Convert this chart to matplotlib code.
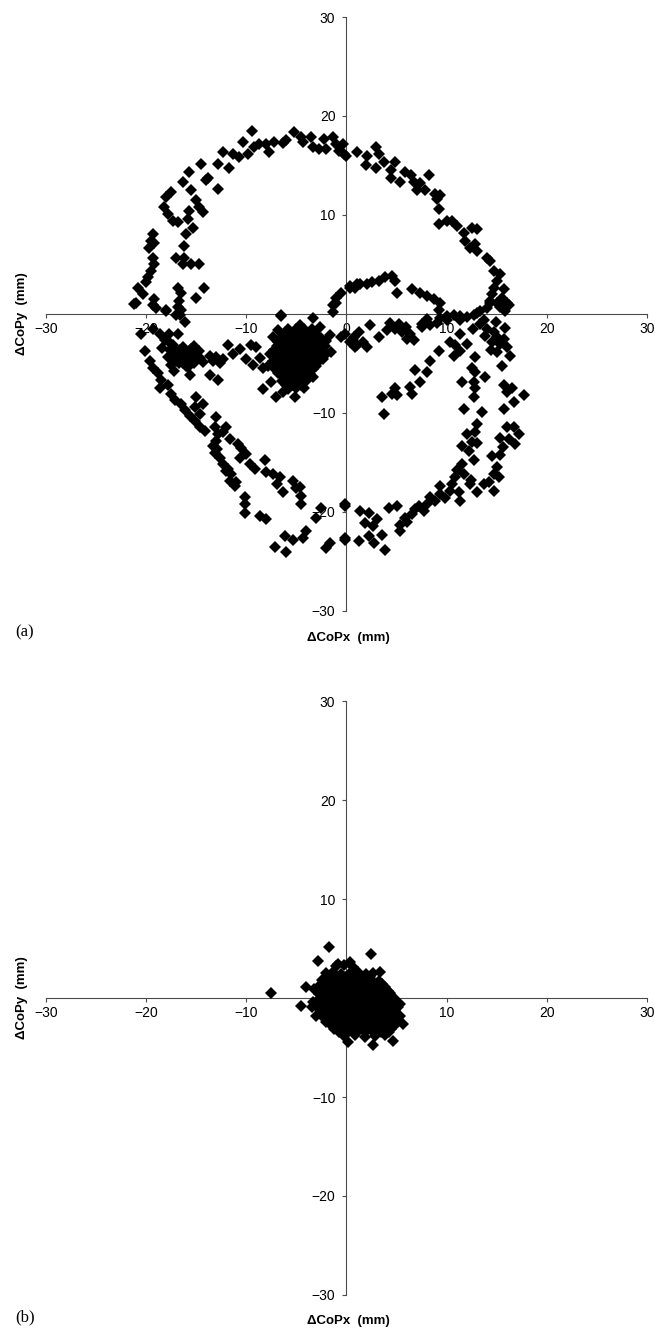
import numpy as np
import matplotlib.pyplot as plt

# ---- panel (a): CoP excursion (mm) ----
a_top = [(-12.8, 15.2), (-12.3, 16.4), (-11.7, 14.7), (-11.3, 16.2), (-10.7, 15.9), (-10.3, 17.4),
         (-9.8, 16.2), (-9.4, 18.5), (-9.2, 16.9), (-8.7, 17.2), (-8.0, 17.2), (-7.7, 16.4),
         (-7.2, 17.4), (-6.3, 17.3), (-6.0, 17.6), (-5.2, 18.4), (-4.5, 17.9), (-4.3, 17.4),
         (-3.5, 17.9), (-3.3, 16.9), (-2.7, 16.7), (-2.2, 17.7), (-2.0, 16.7), (-1.3, 17.9),
         (-1.0, 17.2), (-0.7, 16.5), (0.0, 16.0), (-0.2, 16.2), (-0.3, 17.2), (1.0, 16.4),
         (2.0, 16.0), (1.9, 15.0), (2.9, 16.9), (3.2, 16.2), (2.9, 14.7), (3.7, 15.4), (4.4, 14.5),
         (4.4, 13.7), (4.85, 15.4), (5.35, 13.3), (5.85, 14.3), (6.4, 14.0), (6.7, 13.3), (7.0, 12.5),
         (8.2, 14.0), (7.35, 13.2), (7.85, 12.5), (8.85, 12.1), (9.35, 12.0), (9.0, 11.6),
         (9.2, 10.6), (9.2, 9.1), (10.0, 9.4), (10.5, 9.4), (11.0, 8.9), (11.7, 8.2), (12.5, 8.7),
         (13.0, 8.6), (11.85, 7.4), (12.35, 6.7), (12.85, 7.1), (13.0, 6.4), (14.0, 5.7),
         (14.35, 5.4), (14.7, 4.3), (15.35, 4.0), (15.0, 3.3), (14.7, 2.6), (15.7, 2.5), (14.5, 2.0),
         (14.35, 1.3), (15.0, 1.1), (15.5, 1.6), (16.2, 0.9), (15.85, 0.3), (13.35, 0.3), (14.0, 0.6)]

a_left_outer = [(-13.8, 13.7), (-14.5, 15.2), (-15.7, 14.3), (-16.3, 13.3), (-15.5, 12.5), (-14.0, 13.5),
                (-12.8, 12.6), (-17.5, 12.3), (-18.0, 11.8), (-18.2, 10.8), (-17.8, 10.1), (-17.3, 9.4),
                (-16.8, 9.3), (-19.3, 8.1), (-19.5, 7.4), (-19.2, 7.2), (-19.7, 6.7), (-19.3, 5.7),
                (-19.2, 5.0), (-19.5, 4.3), (-19.8, 3.7), (-20.0, 3.2), (-20.8, 2.6), (-20.3, 2.0),
                (-21.2, 1.0), (-19.2, 1.5), (-19.0, 0.6), (-18.0, 0.3)]

a_left_inner = [(-15.0, 11.5), (-15.7, 10.4), (-14.7, 10.8), (-15.8, 9.6), (-15.3, 8.7), (-16.0, 8.1),
                (-14.3, 10.3), (-16.2, 6.9), (-17.0, 5.7), (-16.2, 5.7), (-16.3, 5.0), (-15.5, 5.0),
                (-14.7, 5.0), (-16.8, 2.6), (-16.5, 2.1), (-14.2, 2.6), (-15.0, 1.6), (-16.7, 1.3),
                (-16.5, 0.4), (-17.0, -0.1), (-6.5, -0.2), (-3.3, -0.4)]

a_inner_loop = [(-1.3, 0.9), (-1.0, 1.6), (-0.5, 2.1), (0.3, 2.6), (1.0, 3.0), (0.35, 2.8), (0.85, 2.6),
                (1.35, 3.0), (2.0, 3.0), (2.5, 3.2), (3.2, 3.3), (3.85, 3.7), (4.5, 3.8), (4.85, 3.3),
                (5.0, 2.1), (6.5, 2.5), (7.35, 2.1), (8.0, 1.8), (8.7, 1.5), (9.35, 1.1), (9.2, 0.4),
                (10.0, -0.2), (11.35, -0.2), (12.7, -0.1)]

a_left_row = [(-21.0, 1.1), (-19.3, 0.9), (-18.0, 0.4), (-16.8, 0.7), (-16.6, -0.1), (-16.1, -0.8),
              (-20.5, -2.0), (-19.3, -1.5), (-18.6, -2.0), (-18.1, -2.6), (-17.7, -2.0), (-16.8, -2.0),
              (-20.1, -3.7), (-19.6, -4.7), (-17.3, -3.1), (-16.6, -4.0), (-16.0, -3.7), (-17.0, -4.7),
              (-16.3, -5.0), (-15.6, -4.5), (-15.0, -4.0), (-17.5, -5.2), (-15.6, -6.2), (-14.7, -3.7),
              (-16.0, -5.3), (-16.5, -4.3), (-13.65, -4.2), (-13.0, -4.3), (-13.3, -4.7), (-12.3, -4.5),
              (-12.65, -5.0), (-11.8, -3.1), (-11.3, -4.0), (-10.65, -3.5), (-10.0, -4.5), (-9.5, -3.1),
              (-9.0, -3.3), (-8.65, -4.4), (-9.3, -5.2), (-8.3, -5.5), (-13.65, -6.2), (-12.8, -6.7),
              (-8.3, -7.6), (-7.0, -8.4), (-17.0, -3.8), (-16.3, -3.3), (-15.5, -3.5), (-17.8, -4.3),
              (-16.0, -4.6), (-15.2, -5.0), (-17.2, -5.8), (-14.6, -4.4), (-18.4, -3.4),
              (-17.6, -3.6), (-16.9, -4.3), (-16.2, -4.2), (-15.5, -4.1), (-16.6, -3.6), (-15.8, -5.4),
              (-17.4, -4.5), (-16.7, -5.0), (-15.2, -3.2), (-14.3, -4.9), (-17.8, -2.7)]

a_cluster = [(-6.5, -0.1), (-6.85, -1.6), (-4.65, -1.1), (-2.65, -1.3), (-1.65, -2.1), (-1.5, -3.8),
             (-2.3, -4.5), (-3.3, -6.4), (-4.2, -7.5), (-5.15, -8.4), (-6.3, -7.9), (-7.5, -6.9),
             (-7.8, -5.3), (-7.65, -4.0), (-7.3, -2.3), (-1.0, 1.1), (-1.3, 0.2), (-0.5, -2.3),
             (0.7, -2.3), (1.0, -3.1), (0.35, -2.8),
             (-6.2, -2.0), (-5.4, -2.1), (-4.6, -1.9), (-3.8, -2.2), (-3.0, -2.0),
             (-6.8, -2.8), (-6.0, -2.9), (-5.2, -2.7), (-4.4, -2.9), (-3.6, -2.8), (-2.8, -2.9), (-2.0, -2.7),
             (-7.2, -3.6), (-6.4, -3.5), (-5.6, -3.7), (-4.8, -3.6), (-4.0, -3.5), (-3.2, -3.7), (-2.4, -3.6),
             (-7.0, -4.4), (-6.2, -4.5), (-5.4, -4.3), (-4.6, -4.4), (-3.8, -4.5), (-3.0, -4.3),
             (-7.0, -5.2), (-6.2, -5.1), (-5.4, -5.3), (-4.6, -5.2), (-3.8, -5.1), (-3.0, -5.3),
             (-6.8, -6.0), (-6.0, -6.1), (-5.2, -5.9), (-4.4, -6.0), (-3.6, -6.1),
             (-6.4, -6.8), (-5.6, -6.9), (-4.8, -6.7), (-4.0, -6.8), (-5.8, -7.6), (-5.0, -7.5),
             (-5.8, -1.5), (-5.0, -1.5), (-4.2, -1.5), (-3.4, -1.5),
             (-6.5, -2.4), (-5.7, -2.4), (-4.9, -2.4), (-4.1, -2.4), (-3.3, -2.4), (-2.5, -2.4),
             (-6.9, -3.2), (-6.1, -3.2), (-5.3, -3.2), (-4.5, -3.2), (-3.7, -3.2), (-2.9, -3.2), (-2.1, -3.2),
             (-6.8, -4.0), (-6.0, -4.0), (-5.2, -4.0), (-4.4, -4.0), (-3.6, -4.0), (-2.8, -4.0), (-2.0, -4.0),
             (-7.3, -4.8), (-6.6, -4.8), (-5.8, -4.8), (-5.0, -4.8), (-4.2, -4.8), (-3.4, -4.8), (-2.7, -4.8),
             (-7.1, -5.6), (-6.4, -5.6), (-5.6, -5.6), (-4.8, -5.6), (-4.0, -5.6), (-3.3, -5.6),
             (-6.2, -6.4), (-5.4, -6.4), (-4.6, -6.4), (-3.8, -6.4), (-6.0, -7.2), (-5.3, -7.2), (-4.5, -7.2)]

a_diag = [(-19.3, -5.5), (-18.8, -6.0), (-18.5, -6.7), (-18.65, -7.5), (-17.8, -7.2), (-17.5, -8.1),
          (-17.15, -8.7), (-16.5, -9.1), (-16.15, -9.7), (-15.65, -10.3), (-15.15, -10.8), (-14.65, -11.4),
          (-14.15, -11.8), (-15.0, -8.4), (-14.3, -9.1), (-15.15, -9.4), (-14.65, -10.1), (-13.0, -10.4),
          (-13.15, -11.4), (-12.8, -12.1), (-13.0, -12.8), (-13.15, -14.0), (-12.65, -14.5), (-12.3, -15.2),
          (-11.8, -15.7), (-11.5, -16.2), (-11.65, -16.9), (-11.15, -17.4), (-10.15, -18.5), (-10.15, -19.2),
          (-10.15, -20.1), (-8.65, -20.4), (-8.0, -20.7), (-13.3, -13.3), (-12.9, -13.6), (-12.0, -15.9),
          (-11.0, -17.0),
          (-12.0, -11.4), (-11.65, -12.6), (-10.8, -13.1), (-10.5, -13.5), (-10.0, -14.1), (-10.65, -14.5),
          (-9.15, -15.7), (-8.15, -14.8), (-8.0, -16.0), (-7.3, -16.2), (-6.65, -16.5), (-6.3, -18.0),
          (-5.3, -16.9), (-4.65, -17.5), (-4.5, -18.4), (-4.5, -19.2), (-12.3, -11.9), (-9.6, -15.2),
          (-6.9, -17.2), (-5.0, -17.6),
          (-2.5, -19.6), (-3.0, -20.6), (-4.0, -21.9), (-4.3, -22.6), (-5.3, -22.8), (-6.15, -22.4),
          (-7.15, -23.5), (-6.0, -24.0), (-2.0, -23.6), (-1.65, -23.1), (-0.15, -19.2), (-0.15, -22.8)]

a_right_row = [(-0.15, -2.0), (0.65, -2.5), (0.85, -3.3), (2.0, -3.3), (2.35, -1.1), (3.2, -2.3),
               (4.35, -0.95), (4.85, -1.5), (5.5, -1.8), (6.0, -2.5), (6.35, -2.0), (7.5, -1.3),
               (8.35, -1.1), (9.0, -0.95), (9.35, -0.45), (10.0, -0.6), (10.7, -0.1), (11.35, -0.6),
               (12.0, -0.3), (13.0, 0.1), (13.7, -0.6), (14.0, -1.5), (14.7, -1.8), (15.0, -2.3),
               (15.7, -2.5), (16.0, -3.3), (15.0, -3.8), (16.35, -4.2), (14.35, 1.1), (15.35, 0.7),
               (16.0, 1.1), (10.35, -2.8), (10.85, -3.1), (11.35, -2.0), (12.0, -3.0), (10.7, -4.2),
               (11.35, -3.7), (12.85, -4.3), (15.5, -5.3), (9.2, -3.7), (8.35, -4.7), (8.0, -5.9),
               (6.85, -5.7), (7.35, -6.9), (6.35, -7.4), (6.5, -8.1), (4.85, -7.5), (5.0, -8.2),
               (4.5, -8.1), (3.5, -8.4), (3.7, -10.1), (12.5, -5.5), (12.85, -5.9), (13.85, -6.4),
               (11.5, -6.9), (12.7, -6.9), (12.85, -7.5), (12.7, -8.4), (11.7, -9.6), (13.5, -9.9),
               (15.7, -7.2), (16.5, -7.5), (16.0, -7.9), (17.7, -8.2), (16.7, -8.9), (15.7, -9.6),
               (14.5, -2.8), (15.3, -3.0), (13.8, -2.2), (14.4, -3.6), (15.8, -1.4), (13.3, -1.0),
               (12.6, -1.5), (14.9, -0.8), (5.2, -1.0), (5.9, -1.3), (6.7, -2.6), (4.0, -1.6),
               (1.2, -1.8), (1.6, -2.8), (7.5, -1.0), (8.0, -0.5)]

a_right_arc = [(16.7, -11.4), (16.0, -11.4), (17.2, -12.1), (15.35, -12.5), (16.85, -13.1), (13.0, -11.1),
               (12.85, -11.9), (12.0, -12.1), (12.5, -12.9), (11.5, -13.3), (12.2, -13.8), (12.7, -14.8),
               (14.5, -14.3), (15.35, -14.2), (15.0, -15.5), (14.7, -16.2), (15.2, -16.5), (14.2, -17.0),
               (13.7, -17.2), (14.7, -17.9), (12.35, -17.2), (13.0, -18.0), (11.5, -15.2), (11.0, -15.8),
               (10.85, -16.5), (11.7, -16.2), (10.5, -17.2), (11.2, -18.0), (11.35, -18.9), (10.35, -17.9),
               (9.35, -17.4), (9.35, -18.2), (8.85, -18.9), (8.35, -18.5), (8.0, -19.2), (7.7, -19.9),
               (6.85, -19.7), (6.5, -20.2), (5.85, -20.6), (5.35, -21.3), (5.35, -21.9), (5.0, -19.4),
               (4.2, -19.6), (3.0, -20.7), (2.2, -20.1), (1.35, -19.9), (1.85, -21.1), (-0.15, -19.4),
               (1.2, -22.9), (2.2, -22.4), (2.7, -23.1), (3.5, -22.3), (3.85, -23.8), (-0.15, -22.6),
               (16.2, -12.6), (15.6, -13.4), (13.0, -13.0), (12.4, -16.8), (9.8, -18.6), (7.2, -19.4),
               (6.0, -21.0), (2.6, -21.4)]

# ---- panel (b): CoP during the second condition ----
b_blob = [(-1.0, 3.2), (-0.2, 3.3), (0.6, 3.1),
          (-2.0, 2.5), (-1.3, 2.6), (-0.5, 2.4), (0.3, 2.5), (1.1, 2.6), (1.9, 2.4), (2.6, 2.5),
          (-2.4, 1.8), (-1.6, 1.9), (-0.8, 1.7), (0.0, 1.8), (0.8, 1.9), (1.6, 1.7), (2.4, 1.8), (3.2, 1.7),
          (-2.6, 1.1), (-1.8, 1.0), (-1.0, 1.2), (-0.2, 1.1), (0.6, 1.0), (1.4, 1.2), (2.2, 1.1),
          (3.0, 1.0), (3.8, 1.1),
          (-2.7, 0.4), (-1.9, 0.3), (-1.1, 0.5), (-0.3, 0.4), (0.5, 0.3), (1.3, 0.4), (2.1, 0.5),
          (2.9, 0.4), (3.7, 0.3), (4.3, 0.5),
          (-2.9, -0.3), (-2.1, -0.2), (-1.3, -0.4), (-0.5, -0.3), (0.3, -0.2), (1.1, -0.3), (1.9, -0.4),
          (2.7, -0.3), (3.5, -0.2), (4.3, -0.4), (4.9, -0.3),
          (-2.8, -1.0), (-2.0, -1.1), (-1.2, -0.9), (-0.4, -1.0), (0.4, -1.1), (1.2, -1.0), (2.0, -0.9),
          (2.8, -1.0), (3.6, -1.1), (4.4, -1.0), (5.1, -0.9),
          (-2.5, -1.7), (-1.7, -1.6), (-0.9, -1.8), (-0.1, -1.7), (0.7, -1.6), (1.5, -1.7), (2.3, -1.8),
          (3.1, -1.7), (3.9, -1.6), (4.7, -1.7), (5.3, -1.8),
          (-2.0, -2.4), (-1.2, -2.5), (-0.4, -2.3), (0.4, -2.4), (1.2, -2.5), (2.0, -2.4), (2.8, -2.3),
          (3.6, -2.4), (4.4, -2.5), (5.0, -2.4),
          (-1.2, -3.1), (-0.4, -3.2), (0.4, -3.0), (1.2, -3.1), (2.0, -3.2), (2.8, -3.1), (3.6, -3.0),
          (4.4, -3.1),
          (-0.2, -3.8), (0.8, -3.7), (1.8, -3.9), (2.8, -3.8), (3.8, -3.7)]
b_fill = [(-1.7, 2.15), (-0.9, 2.15), (-0.1, 2.15), (0.7, 2.15), (1.5, 2.15), (2.3, 2.15),
          (-2.0, 1.45), (-1.2, 1.45), (-0.4, 1.45), (0.4, 1.45), (1.2, 1.45), (2.0, 1.45), (2.8, 1.45),
          (3.5, 1.45),
          (-2.2, 0.75), (-1.4, 0.75), (-0.6, 0.75), (0.2, 0.75), (1.0, 0.75), (1.8, 0.75), (2.6, 0.75),
          (3.4, 0.75), (4.1, 0.75),
          (-2.4, 0.05), (-1.6, 0.05), (-0.8, 0.05), (0.0, 0.05), (0.8, 0.05), (1.6, 0.05), (2.4, 0.05),
          (3.2, 0.05), (4.0, 0.05), (4.7, 0.05),
          (-2.5, -0.65), (-1.7, -0.65), (-0.9, -0.65), (-0.1, -0.65), (0.7, -0.65), (1.5, -0.65),
          (2.3, -0.65), (3.1, -0.65), (3.9, -0.65), (4.7, -0.65), (5.3, -0.65),
          (-2.4, -1.35), (-1.6, -1.35), (-0.8, -1.35), (0.0, -1.35), (0.8, -1.35), (1.6, -1.35),
          (2.4, -1.35), (3.2, -1.35), (4.0, -1.35), (4.8, -1.35),
          (-2.1, -2.05), (-1.3, -2.05), (-0.5, -2.05), (0.3, -2.05), (1.1, -2.05), (1.9, -2.05),
          (2.7, -2.05), (3.5, -2.05), (4.3, -2.05), (5.0, -2.05),
          (-1.5, -2.75), (-0.7, -2.75), (0.1, -2.75), (0.9, -2.75), (1.7, -2.75), (2.5, -2.75),
          (3.3, -2.75), (4.1, -2.75), (4.8, -2.75),
          (-0.7, -3.45), (0.2, -3.45), (1.0, -3.45), (1.8, -3.45), (2.6, -3.45), (3.4, -3.45), (4.2, -3.45),
          (-3.2, 0.9), (-3.4, -0.9), (-3.0, -1.8)]
b_out = [(-7.5, 0.5), (-4.0, 1.1), (-4.5, -0.8), (-3.3, -0.4), (-2.85, 3.75), (-1.7, 5.2), (-2.6, 1.3),
         (0.3, 3.65), (2.4, 4.4), (3.35, 2.65), (-0.8, 3.4), (0.2, -4.4), (2.6, -4.7), (4.6, -4.3),
         (5.6, -2.6)]

xticks = [-30, -20, -10, 0, 10, 20, 30]
yticks = [-30, -20, -10, 10, 20, 30]

a_pts = np.array(a_top + a_left_outer + a_left_inner + a_inner_loop + a_left_row
                 + a_cluster + a_diag + a_right_row + a_right_arc)
b_pts = np.array(b_blob + b_fill + b_out)

plt.rcParams['font.family'] = ['Liberation Sans', 'DejaVu Sans']

fig = plt.figure(figsize=(6.55, 13.29), dpi=100)
ax1 = fig.add_axes([0.0702, 0.5403, 0.9176, 0.4469])
ax2 = fig.add_axes([0.0702, 0.0256, 0.9176, 0.4469])

axis_col = '#4a4a4a'
for ax, pts in [(ax1, a_pts), (ax2, b_pts)]:
    ax.plot(pts[:, 0], pts[:, 1], 'D', color='black', markersize=6.2, markeredgewidth=0, zorder=3)
    ax.set_xlim(-30, 30)
    ax.set_ylim(-30, 30)
    ax.spines['top'].set_visible(False)
    ax.spines['right'].set_visible(False)
    ax.spines['left'].set_position(('data', 0))
    ax.spines['bottom'].set_position(('data', 0))
    ax.spines['left'].set_color(axis_col)
    ax.spines['bottom'].set_color(axis_col)
    ax.spines['left'].set_linewidth(0.8)
    ax.spines['bottom'].set_linewidth(0.8)
    ax.set_xticks(xticks)
    ax.set_yticks(yticks)
    ax.tick_params(axis='x', direction='out', length=3, width=0.8, color=axis_col, pad=3, labelsize=10)
    ax.tick_params(axis='y', direction='out', length=3, width=0.8, color=axis_col, pad=5, labelsize=10)
    ax.patch.set_visible(False)

# axis titles and panel letters
for yc, ylab, xlab, tag, tag_y in [(0.7637, 'ΔCoPy  (mm)', 0.5200, '(a)', 0.5245),
                                    (0.2490, 'ΔCoPy  (mm)', 0.0060, '(b)', 0.0085)]:
    fig.text(0.034, yc, ylab, rotation=90, ha='center', va='center', fontsize=9.5, fontweight='bold')
    fig.text(0.532, xlab, 'ΔCoPx  (mm)', ha='center', va='center', fontsize=9.5, fontweight='bold')
    fig.text(0.023, tag_y, tag, ha='left', va='center', fontsize=12, family='Liberation Serif')

fig.savefig('out.png', dpi=100)
